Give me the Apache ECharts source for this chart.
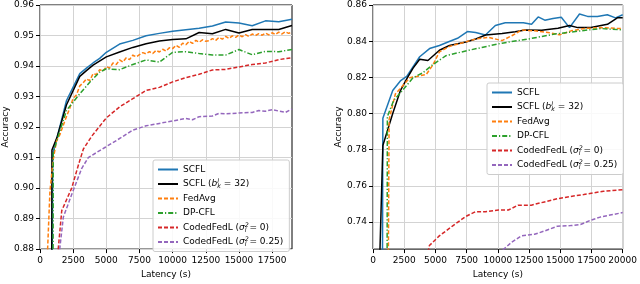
<!DOCTYPE html>
<html>
<head>
<meta charset="utf-8">
<script src="https://cdn.jsdelivr.net/npm/echarts@6/dist/echarts.min.js"></script>
<style>
html,body{margin:0;padding:0;background:#fff;}
#c{width:640px;height:284px;}
</style>
</head>
<body>
<div id="c"></div>
<script>
// ---------- tick values ----------
const leftXTicks = [0, 2500, 5000, 7500, 10000, 12500, 15000, 17500];
const rightXTicks = [0, 2500, 5000, 7500, 10000, 12500, 15000, 17500, 20000];
const leftYTicks = [0.88, 0.89, 0.90, 0.91, 0.92, 0.93, 0.94, 0.95, 0.96];
const rightYTicks = [0.74, 0.76, 0.78, 0.80, 0.82, 0.84, 0.86];

// ---------- left panel data [latency, accuracy] ----------
const leftSCFL = [[900,0.86],[960,0.9112],[1300,0.9168],[2000,0.9287],[3000,0.9375],[3500,0.9393],[4000,0.941],[4500,0.9425],[5000,0.9445],[6000,0.9472],[7000,0.9484],[8000,0.9499],[9000,0.9507],[10000,0.9514],[11000,0.9519],[12000,0.9524],[13000,0.9531],[14000,0.9544],[15000,0.9541],[16000,0.9532],[17000,0.9548],[18000,0.9545],[19000,0.9553]];
const leftSCFL32 = [[880,0.86],[900,0.9125],[1300,0.9168],[2000,0.9273],[3000,0.9366],[3500,0.9385],[4000,0.9403],[5000,0.943],[6000,0.9446],[7000,0.9461],[8000,0.9473],[9000,0.9482],[10000,0.9487],[11000,0.9489],[12000,0.951],[13000,0.9506],[14000,0.952],[15000,0.9508],[16000,0.952],[17000,0.952],[18000,0.952],[19000,0.9533]];
const leftFedAvg = [[500,0.872],[750,0.899],[1000,0.9095],[1250,0.9155],[1500,0.9175],[1750,0.9205],[2000,0.9235],[2250,0.9262],[2500,0.9295],[2750,0.9305],[3000,0.9335],[3250,0.9345],[3500,0.9358],[3750,0.9352],[4000,0.9375],[4250,0.9372],[4500,0.9388],[4750,0.9383],[5000,0.9398],[5250,0.9393],[5500,0.941],[5750,0.9405],[6000,0.942],[6250,0.9413],[6500,0.9427],[6750,0.9421],[7000,0.9436],[7250,0.943],[7500,0.9437],[7750,0.9444],[8000,0.944],[8250,0.9447],[8500,0.9441],[8750,0.9451],[9000,0.9446],[9250,0.9455],[9500,0.9449],[9750,0.946],[10000,0.9457],[10250,0.9468],[10500,0.9461],[10750,0.9475],[11000,0.947],[11250,0.9481],[11500,0.9474],[11750,0.9484],[12000,0.9478],[12250,0.9486],[12500,0.9481],[12750,0.9483],[13000,0.949],[13250,0.9484],[13500,0.9494],[13750,0.9488],[14000,0.9497],[14250,0.949],[14500,0.9499],[14750,0.9494],[15000,0.9502],[15250,0.9496],[15500,0.9503],[15750,0.9497],[16000,0.9505],[16250,0.95],[16500,0.9506],[16750,0.9501],[17000,0.9508],[17250,0.9502],[17500,0.9509],[17750,0.9503],[18000,0.9511],[18250,0.9505],[18500,0.9512],[18750,0.9507],[19000,0.9511]];
const leftDPCFL = [[980,0.86],[1000,0.9115],[1300,0.916],[2000,0.9255],[3000,0.9309],[3800,0.9349],[4500,0.938],[5000,0.9391],[6000,0.9388],[7000,0.9405],[8000,0.942],[9000,0.9413],[10000,0.9445],[11000,0.9447],[12000,0.9441],[13000,0.9436],[14000,0.9436],[15000,0.9454],[16000,0.9437],[17000,0.9448],[18000,0.9447],[19000,0.9454]];
const leftCoded0 = [[1290,0.876],[1640,0.8926],[2390,0.9],[2890,0.9075],[3270,0.9128],[3900,0.917],[5000,0.923],[6000,0.9266],[7000,0.9293],[8000,0.932],[9000,0.933],[10000,0.9348],[11000,0.9362],[12000,0.9373],[13000,0.9387],[14000,0.9389],[15000,0.9397],[16000,0.9405],[17000,0.941],[18000,0.9421],[19000,0.9427]];
const leftCoded25 = [[1380,0.876],[1760,0.8905],[2390,0.8979],[3140,0.9064],[3640,0.91],[4890,0.9133],[6100,0.9165],[7000,0.919],[8000,0.9204],[9000,0.9212],[10000,0.922],[11000,0.9228],[11500,0.9224],[12000,0.9234],[13000,0.9236],[13500,0.9245],[14000,0.9243],[15000,0.9246],[16000,0.9248],[16500,0.9254],[17000,0.9252],[17500,0.9257],[18500,0.9248],[19000,0.9259]];

// ---------- right panel data [latency, accuracy] ----------
const rightSCFL = [[760,0.72],[790,0.7974],[1580,0.8127],[2190,0.818],[2700,0.8205],[3740,0.8314],[4530,0.8359],[5320,0.8376],[6110,0.8398],[6770,0.8416],[7560,0.8453],[8220,0.8448],[9010,0.8434],[9800,0.8487],[10590,0.8502],[11380,0.8502],[12040,0.8502],[12700,0.8493],[13230,0.8534],[13760,0.8516],[14420,0.8525],[15080,0.8532],[15740,0.8475],[16540,0.855],[17190,0.8537],[17980,0.8537],[18770,0.8546],[19430,0.8529],[20000,0.8546]];
const rightSCFL32 = [[540,0.72],[790,0.7823],[1580,0.8],[2190,0.8126],[2770,0.82],[3210,0.8251],[3740,0.83],[4400,0.8293],[5320,0.835],[6120,0.8376],[7440,0.8395],[8230,0.8412],[9020,0.8434],[10340,0.8443],[11390,0.8452],[12180,0.8462],[13500,0.846],[14820,0.8471],[15740,0.8487],[16400,0.8475],[17450,0.8475],[18780,0.8493],[19570,0.8529],[20000,0.8529]];
const rightFedAvg = [[1230,0.72],[1290,0.7966],[1790,0.8108],[2610,0.8171],[2950,0.8198],[3500,0.8205],[4270,0.8216],[4800,0.8269],[5320,0.8341],[6110,0.8371],[7170,0.8391],[8230,0.8412],[9280,0.8421],[10330,0.8403],[11120,0.843],[11910,0.8462],[12970,0.8457],[14020,0.8448],[14950,0.8435],[15870,0.8457],[16930,0.847],[18240,0.8475],[20000,0.8469]];
const rightDPCFL = [[1130,0.72],[1150,0.7983],[1660,0.8073],[2450,0.8135],[3210,0.8198],[3990,0.8225],[4790,0.827],[5850,0.832],[7690,0.835],[10330,0.8389],[12440,0.8412],[14550,0.8439],[16660,0.8457],[18240,0.847],[20000,0.8462]];
const rightCoded0 = [[4300,0.72],[4520,0.727],[5310,0.7323],[6360,0.7377],[7420,0.743],[8200,0.7457],[9000,0.7457],[10050,0.7466],[10840,0.7466],[11630,0.7493],[12680,0.7493],[13730,0.7511],[14780,0.7529],[15830,0.7541],[16880,0.7552],[18460,0.757],[20000,0.7579]];
const rightCoded25 = [[10400,0.7245],[11100,0.7288],[11890,0.7323],[12940,0.7332],[13730,0.735],[14780,0.7377],[15830,0.738],[16620,0.7386],[17410,0.7409],[18200,0.7427],[18990,0.7438],[20000,0.7452]];

// ---------- legend names ----------
const names = ['SCFL', 'SCFL (b=32)', 'FedAvg', 'DP-CFL', 'CodedFedL (s=0)', 'CodedFedL (s=0.25)'];
const legendLabels = {
  'SCFL': 'SCFL',
  'SCFL (b=32)': 'SCFL ({it|b}{sup|l}{sub|k} = 32)',
  'FedAvg': 'FedAvg',
  'DP-CFL': 'DP-CFL',
  'CodedFedL (s=0)': 'CodedFedL ({it|σ}{sup|2}{sub|l} = 0)',
  'CodedFedL (s=0.25)': 'CodedFedL ({it|σ}{sup|2}{sub|l} = 0.25)'
};

const FONT = 'DejaVu Sans';
const colors = ['#1f77b4', '#000000', '#ff7f0e', '#2ca02c', '#d62728', '#9467bd'];
const types = ['solid', 'solid', [4, 2], [5, 2, 1.2, 2], [4, 2], [4, 2]];

function mkSeries(data, idx, gi) {
  return {
    name: names[idx], type: 'line', data: data,
    xAxisIndex: gi, yAxisIndex: gi,
    showSymbol: false, symbol: 'none', clip: true, animation: false,
    lineStyle: { color: colors[idx], width: 1.5, type: types[idx] },
    itemStyle: { color: colors[idx] }
  };
}

const axisLabelStyle = { fontFamily: FONT, fontSize: 9, color: '#000' };

function xAx(gi, max, ticks) {
  return {
    type: 'value', gridIndex: gi, min: 0, max: max, interval: 2500,
    axisLine: { show: false },
    axisTick: { show: true, inside: false, length: 4, lineStyle: { color: '#000' }, customValues: ticks },
    axisLabel: Object.assign({ margin: 7, customValues: ticks, formatter: v => String(v) }, axisLabelStyle),
    splitLine: { show: true, lineStyle: { color: '#d3d3d3', width: 1 } },
    name: 'Latency (s)', nameLocation: 'middle', nameGap: 19,
    nameTextStyle: { fontFamily: FONT, fontSize: 9, color: '#000' }
  };
}
function yAx(gi, min, max, ticks) {
  return {
    type: 'value', gridIndex: gi, min: min, max: max,
    axisLine: { show: false },
    axisTick: { show: true, inside: false, length: 4, lineStyle: { color: '#000' }, customValues: ticks },
    axisLabel: Object.assign({ margin: 6, customValues: ticks, formatter: v => v.toFixed(2) }, axisLabelStyle),
    splitLine: { show: true, lineStyle: { color: '#d3d3d3', width: 1 } },
    name: 'Accuracy', nameLocation: 'middle', nameGap: 30,
    nameTextStyle: { fontFamily: FONT, fontSize: 9, color: '#000' }
  };
}

function mkLegend(left, top) {
  return {
    orient: 'vertical', left: left, top: top,
    data: names,
    itemWidth: 20, itemHeight: 8, itemGap: 3.5,
    padding: [4, 6, 4, 4],
    backgroundColor: 'rgba(255,255,255,0.85)',
    borderColor: '#cccccc', borderWidth: 1, borderRadius: 2,
    itemStyle: { opacity: 0, borderWidth: 0 },
    formatter: n => legendLabels[n],
    textStyle: {
      fontFamily: FONT, fontSize: 9, color: '#000', lineHeight: 11,
      rich: {
        it: { fontFamily: FONT, fontSize: 9, fontStyle: 'italic', color: '#000', lineHeight: 11 },
        sup: { fontFamily: FONT, fontSize: 6.3, fontStyle: 'italic', color: '#000', verticalAlign: 'top', width: 0, lineHeight: 8 },
        sub: { fontFamily: FONT, fontSize: 6.3, fontStyle: 'italic', color: '#000', verticalAlign: 'bottom', lineHeight: 7 }
      }
    },
    selectedMode: false
  };
}

const chart = echarts.init(document.getElementById('c'), null, { renderer: 'canvas' });
chart.setOption({
  animation: false,
  backgroundColor: '#fff',
  grid: [
    { left: 40, top: 5, width: 252, height: 251, show: true, borderColor: '#000', borderWidth: 1, backgroundColor: 'transparent' },
    { left: 373, top: 5, width: 253, height: 251, show: true, borderColor: '#000', borderWidth: 1, backgroundColor: 'transparent' }
  ],
  xAxis: [xAx(0, 19000, leftXTicks), xAx(1, 20000, rightXTicks)],
  yAxis: [yAx(0, 0.88, 0.96, leftYTicks), yAx(1, 0.725, 0.86, rightYTicks)],
  legend: [mkLegend(153, 160), mkLegend(487, 83)],
  series: [
    mkSeries(leftSCFL, 0, 0), mkSeries(leftSCFL32, 1, 0), mkSeries(leftFedAvg, 2, 0),
    mkSeries(leftDPCFL, 3, 0), mkSeries(leftCoded0, 4, 0), mkSeries(leftCoded25, 5, 0),
    mkSeries(rightSCFL, 0, 1), mkSeries(rightSCFL32, 1, 1), mkSeries(rightFedAvg, 2, 1),
    mkSeries(rightDPCFL, 3, 1), mkSeries(rightCoded0, 4, 1), mkSeries(rightCoded25, 5, 1)
  ]
});
</script>
</body>
</html>
